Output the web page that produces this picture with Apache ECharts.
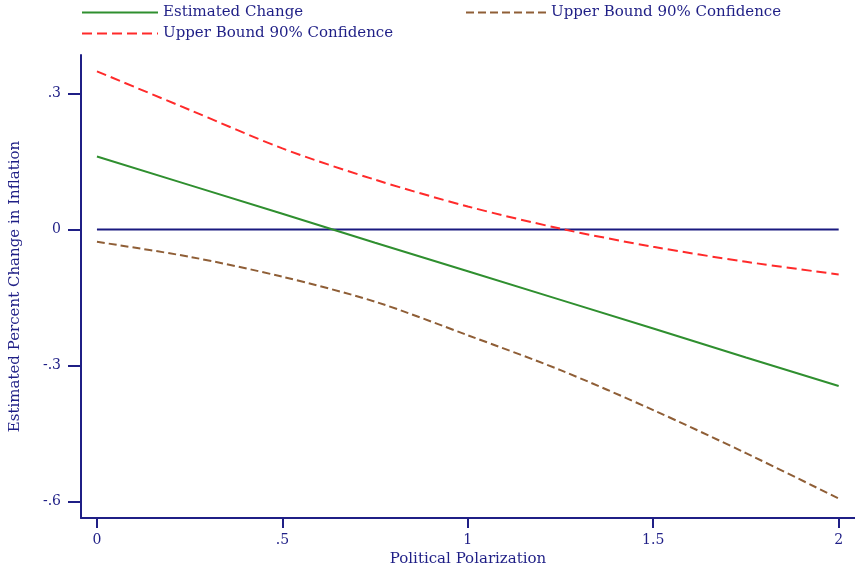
<!DOCTYPE html>
<html>
<head>
<meta charset="utf-8">
<title>Estimated Percent Change in Inflation</title>
<script src="https://cdn.jsdelivr.net/npm/echarts@6/dist/echarts.min.js"></script>
<style>
  html, body { margin: 0; padding: 0; background: #fff; }
  #chart { width: 855px; height: 568px; }
</style>
</head>
<body>
<div id="chart"></div>
<script>
// values
const polarization = [0, 0.25, 0.5, 0.75, 1, 1.25, 1.5, 1.75, 2]
const estimated = [0.161, 0.098, 0.035, -0.029, -0.092, -0.155, -0.218, -0.282, -0.345]
const upperRed = [0.349, 0.264, 0.179, 0.110, 0.051, 0.002, -0.038, -0.071, -0.099]
const lowerBrown = [-0.027, -0.060, -0.104, -0.159, -0.233, -0.310, -0.398, -0.493, -0.593]
const xTicks = [0, 0.5, 1, 1.5, 2]
const yTicks = [-0.6, -0.3, 0, 0.3]

const navy = '#1f1f86'
const serif = 'DejaVu Serif'

// Stata style: drop the leading zero
const fmt = v => {
  if (v === 0) return '0'
  const s = String(v)
  return s.replace(/^(-?)0\./, '$1.')
}

const pairs = ys => polarization.map((x, i) => [x, ys[i]])

const chart = echarts.init(document.getElementById('chart'))

const option = {
  animation: false,
  backgroundColor: '#fff',
  textStyle: { fontFamily: serif, color: navy },
  legend: [
    {
      // left column: green then red
      data: ['Estimated Change', 'Upper Bound 90% Confidence '],
      orient: 'vertical',
      left: 76,
      top: 0,
      itemWidth: 76,
      itemHeight: 14,
      itemGap: 6,
      selectedMode: false,
      itemStyle: { opacity: 0 },
      formatter: name => name.trim(),
      textStyle: { fontFamily: serif, fontSize: 15, color: navy }
    },
    {
      data: ['Upper Bound 90% Confidence'],
      orient: 'vertical',
      left: 460,
      top: 0,
      itemWidth: 80,
      itemHeight: 14,
      selectedMode: false,
      itemStyle: { opacity: 0 },
      textStyle: { fontFamily: serif, fontSize: 15, color: navy }
    }
  ],
  grid: { left: 81, right: 0, top: 55, bottom: 50, outerBoundsMode: 'none' },
  xAxis: {
    type: 'value',
    min: -0.043,
    max: 2.044,
    name: 'Political Polarization',
    nameLocation: 'middle',
    nameGap: 31,
    nameTextStyle: { fontFamily: serif, fontSize: 15, color: navy },
    splitLine: { show: false },
    axisLine: { onZero: false, lineStyle: { color: navy, width: 2 } },
    axisTick: { customValues: xTicks, length: 10, lineStyle: { color: navy, width: 2 } },
    axisLabel: { customValues: xTicks, formatter: fmt, fontFamily: serif, fontSize: 14, color: navy, margin: 15 }
  },
  yAxis: {
    type: 'value',
    min: -0.636,
    max: 0.385,
    name: 'Estimated Percent Change in Inflation',
    nameLocation: 'middle',
    nameGap: 58,
    nameTextStyle: { fontFamily: serif, fontSize: 15, color: navy },
    splitLine: { show: false },
    axisLine: { show: true, onZero: false, lineStyle: { color: navy, width: 2 } },
    axisTick: { customValues: yTicks, length: 13, lineStyle: { color: navy, width: 2 } },
    axisLabel: { customValues: yTicks, formatter: fmt, fontFamily: serif, fontSize: 14, color: navy, margin: 20 }
  },
  series: [
    {
      name: 'Estimated Change',
      type: 'line',
      data: pairs(estimated),
      symbol: 'none',
      lineStyle: { color: '#2f8f2f', width: 2 },
      itemStyle: { color: '#2f8f2f' }
    },
    {
      name: 'Upper Bound 90% Confidence',
      type: 'line',
      data: pairs(lowerBrown),
      symbol: 'none',
      smooth: 0.3,
      lineStyle: { color: '#8f5e36', width: 2, type: [8, 4] },
      itemStyle: { color: '#8f5e36' }
    },
    {
      name: 'Upper Bound 90% Confidence ',
      type: 'line',
      data: pairs(upperRed),
      symbol: 'none',
      smooth: 0.3,
      lineStyle: { color: '#ff2a2a', width: 2, type: [10, 5] },
      itemStyle: { color: '#ff2a2a' }
    },
    {
      name: 'zero',
      type: 'line',
      data: [[0, 0], [2, 0]],
      symbol: 'none',
      silent: true,
      lineStyle: { color: '#1a1a80', width: 2 },
      z: 1
    }
  ]
}

chart.setOption(option)
</script>
</body>
</html>
